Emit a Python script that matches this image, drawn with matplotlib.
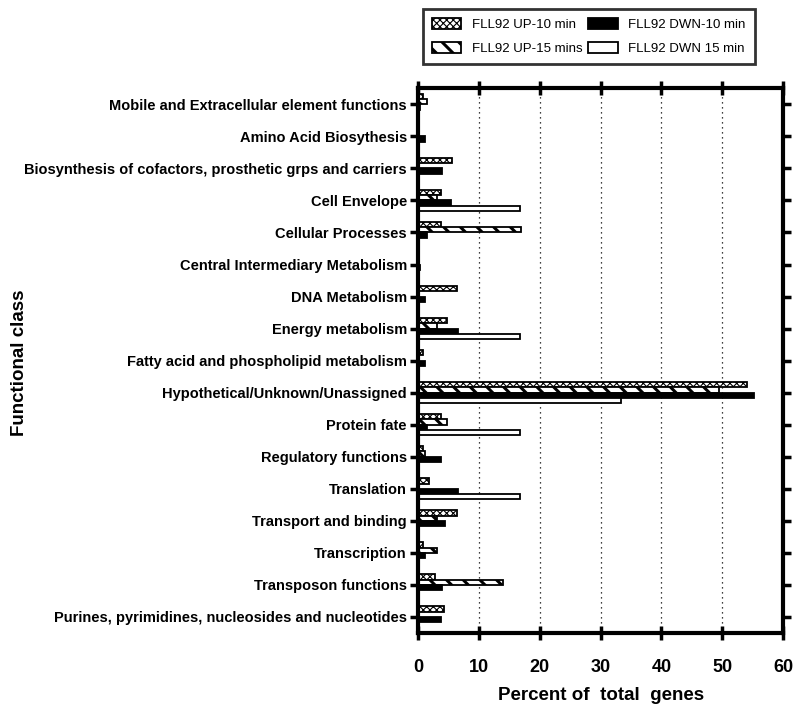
#!/usr/bin/env python3

import numpy as np
import matplotlib
matplotlib.use("Agg")
import matplotlib.pyplot as plt

plt.rcParams["font.family"] = ["Liberation Sans", "DejaVu Sans"]
plt.rcParams["hatch.linewidth"] = 1.0

categories = [
    "Mobile and Extracellular element functions",
    "Amino Acid Biosythesis",
    "Biosynthesis of cofactors, prosthetic grps and carriers",
    "Cell Envelope",
    "Cellular Processes",
    "Central Intermediary Metabolism",
    "DNA Metabolism",
    "Energy metabolism",
    "Fatty acid and phospholipid metabolism",
    "Hypothetical/Unknown/Unassigned",
    "Protein fate",
    "Regulatory functions",
    "Translation",
    "Transport and binding",
    "Transcription",
    "Transposon functions",
    "Purines, pyrimidines, nucleosides and nucleotides",
]

up10 = [0.8, 0, 5.6, 3.7, 3.7, 0, 6.4, 4.7, 0.8, 54.1, 3.7, 0.8, 1.8, 6.4, 0.8, 2.8, 4.2]
up15 = [1.5, 0, 0, 3.1, 16.9, 0, 0, 3.1, 0, 49.5, 4.7, 1.2, 0, 3.1, 3.1, 14.0, 0]
dwn10 = [0.4, 1.1, 4.0, 5.5, 1.5, 0.4, 1.1, 6.6, 1.1, 55.2, 1.5, 3.8, 6.6, 4.5, 1.1, 3.9, 3.7]
dwn15 = [0, 0, 0, 16.7, 0, 0, 0, 16.7, 0, 33.3, 16.7, 0, 16.7, 0, 0, 0, 0]

series = ["FLL92 UP-10 min", "FLL92 UP-15 mins", "FLL92 DWN-10 min", "FLL92 DWN 15 min"]

fig = plt.figure(figsize=(8, 7.12), dpi=100)
ax = fig.add_axes([0.5225, 0.111, 0.4565, 0.765])

y = np.arange(len(categories))
h = 0.165
styles = [
    dict(facecolor="white", hatch="xxxxx"),
    dict(facecolor="white", hatch="\\\\"),
    dict(facecolor="black"),
    dict(facecolor="white"),
]
hatch_lw = [0.8, 2.2, 1.0, 1.0]
for i, (vals, st) in enumerate(zip([up10, up15, dwn10, dwn15], styles)):
    bars = ax.barh(y + (i - 1.5) * h, vals, height=h, edgecolor="black",
                   linewidth=1.3, label=series[i], **st)
    for b in bars:
        if hasattr(b, "set_hatch_linewidth"):
            b.set_hatch_linewidth(hatch_lw[i])

ax.set_ylim(len(categories) - 0.5, -0.5)
ax.set_xlim(0, 60)
ax.set_xticks(range(0, 61, 10))
ax.set_yticks(y)
ax.set_yticklabels(categories, fontsize=10.5, fontweight="bold")
for t in ax.get_xticklabels():
    t.set_fontweight("bold")
    t.set_fontsize(13)

for xv in range(10, 60, 10):
    ax.axvline(xv, color="black", linestyle=(0, (1, 3)), linewidth=0.9, zorder=0)

for s in ax.spines.values():
    s.set_linewidth(3)
ax.tick_params(axis="y", direction="out", length=6, width=2.5, right=True, pad=2)
ax.tick_params(axis="x", direction="inout", length=10, width=2.5, top=True, pad=14)

ax.set_xlabel("Percent of  total  genes", fontsize=13.5, fontweight="bold", labelpad=8)
fig.text(0.025, 0.49, "Functional class", rotation=90, fontsize=13.5,
         fontweight="bold", ha="center", va="center")

leg = ax.legend(ncol=2, loc="lower left", bbox_to_anchor=(-0.005, 1.032, 0.945, 0.08),
                mode="expand", fontsize=9.5, frameon=True, fancybox=False,
                handlelength=2.2, handleheight=0.9, borderpad=0.7,
                columnspacing=1.5, labelspacing=0.8, edgecolor="black")
leg.get_frame().set_linewidth(2)
leg_handles = getattr(leg, "legend_handles", None) or leg.legendHandles
for hnd, lw in zip(leg_handles, hatch_lw):
    if hasattr(hnd, "set_hatch_linewidth"):
        hnd.set_hatch_linewidth(lw)

fig.savefig("out.png", dpi=100)
